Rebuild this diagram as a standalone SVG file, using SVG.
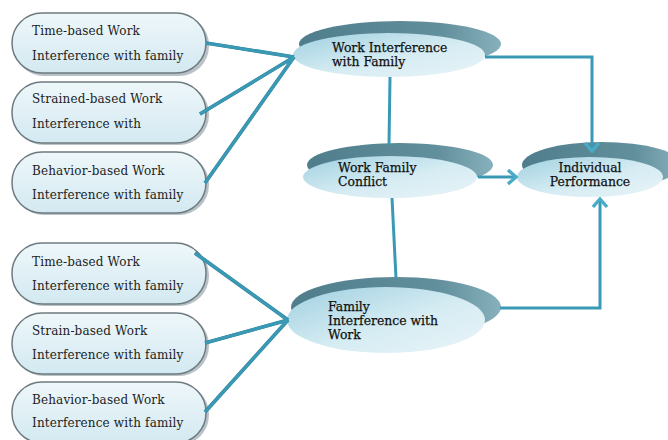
<svg xmlns="http://www.w3.org/2000/svg" width="668" height="440" viewBox="0 0 668 440">
<defs>
<linearGradient id="boxFill" x1="0" y1="0" x2="0" y2="1">
<stop offset="0" stop-color="#eef7fa"/>
<stop offset="1" stop-color="#d3e9f1"/>
</linearGradient>
<linearGradient id="frontFill" x1="0" y1="0" x2="1" y2="1">
<stop offset="0" stop-color="#9fd0e0"/>
<stop offset="0.55" stop-color="#d6ecf3"/>
<stop offset="1" stop-color="#e8f4f8"/>
</linearGradient>
<linearGradient id="backFill" x1="0" y1="0" x2="1" y2="0">
<stop offset="0" stop-color="#4f7d8b"/>
<stop offset="0.7" stop-color="#628f9c"/>
<stop offset="1" stop-color="#86b0bc"/>
</linearGradient>
<marker id="chev" markerWidth="14" markerHeight="18" refX="10" refY="8" orient="auto" markerUnits="userSpaceOnUse">
<path d="M2,1 L10,8 L2,15" fill="none" stroke="#48abc7" stroke-width="3.4"/>
</marker>
<style>
.box{fill:url(#boxFill);stroke:#6d7b81;stroke-width:1.5}
.shadow{fill:#8b9aa0;opacity:0.6}
.front{fill:url(#frontFill)}
.back{fill:url(#backFill)}
.bt{font-family:"DejaVu Serif","Liberation Serif",serif;font-size:12px;letter-spacing:0.15px;fill:#222}
.et{font-family:"DejaVu Serif","Liberation Serif",serif;font-size:12.4px;fill:#111;stroke:#111;stroke-width:0.25}
.ln{fill:none;stroke:#3a9ab6;stroke-width:3;stroke-linejoin:miter}
.lnd{fill:none;stroke:#2a7a91;stroke-width:3.6}
</style>
</defs>

<g id="box1">
<rect class="shadow" x="14" y="15" width="195" height="61" rx="30"/>
<rect class="box" x="12" y="13" width="194" height="60" rx="30"/>
<text class="bt" x="32" y="35">Time-based Work</text>
<text class="bt" x="32" y="60">Interference with family</text>
</g>
<g id="box2">
<rect class="shadow" x="14" y="84" width="195" height="61" rx="30"/>
<rect class="box" x="12" y="82" width="194" height="61" rx="30"/>
<text class="bt" x="32" y="103">Strained-based Work</text>
<text class="bt" x="32" y="128">Interference with</text>
</g>
<g id="box3">
<rect class="shadow" x="14" y="154" width="195" height="61" rx="30"/>
<rect class="box" x="12" y="152" width="194" height="61" rx="30"/>
<text class="bt" x="32" y="175">Behavior-based Work</text>
<text class="bt" x="32" y="199">Interference with family</text>
</g>
<g id="box4">
<rect class="shadow" x="14" y="245" width="195" height="61" rx="30"/>
<rect class="box" x="12" y="243" width="194" height="61" rx="30"/>
<text class="bt" x="32" y="266">Time-based Work</text>
<text class="bt" x="32" y="290">Interference with family</text>
</g>
<g id="box5">
<rect class="shadow" x="14" y="315" width="195" height="61" rx="30"/>
<rect class="box" x="12" y="313" width="194" height="61" rx="30"/>
<text class="bt" x="32" y="335">Strain-based Work</text>
<text class="bt" x="32" y="359">Interference with family</text>
</g>
<g id="box6">
<rect class="shadow" x="14" y="384" width="195" height="61" rx="30"/>
<rect class="box" x="12" y="382" width="194" height="61" rx="30"/>
<text class="bt" x="32" y="404">Behavior-based Work</text>
<text class="bt" x="32" y="427">Interference with family</text>
</g>

<g id="wif">
<ellipse class="back" cx="400" cy="44" rx="101" ry="23"/>
<ellipse class="front" cx="389" cy="55" rx="96" ry="22"/>
<text class="et" x="332" y="52">Work Interference</text>
<text class="et" x="332" y="66">with Family</text>
</g>
<g id="wfc">
<ellipse class="back" cx="400" cy="165" rx="93" ry="22"/>
<ellipse class="front" cx="390" cy="177" rx="87" ry="21"/>
<text class="et" x="338" y="172">Work Family</text>
<text class="et" x="338" y="186">Conflict</text>
</g>
<g id="ip">
<ellipse class="back" cx="602" cy="165" rx="80" ry="23"/>
<ellipse class="front" cx="590" cy="177" rx="73" ry="20"/>
<text class="et" x="590" y="172" text-anchor="middle">Individual</text>
<text class="et" x="590" y="186" text-anchor="middle">Performance</text>
</g>
<g id="fiw">
<ellipse class="back" cx="396" cy="307" rx="105" ry="30"/>
<ellipse class="front" cx="386" cy="320" rx="99" ry="33"/>
<text class="et" x="328" y="311">Family</text>
<text class="et" x="328" y="325">Interference with</text>
<text class="et" x="328" y="339">Work</text>
</g>

<g id="connectors">
<g class="lnd">
<line x1="206" y1="43" x2="294" y2="57"/>
<line x1="200" y1="114" x2="294" y2="57"/>
<line x1="205" y1="183" x2="294" y2="57"/>
<line x1="195" y1="253" x2="288" y2="320"/>
<line x1="205" y1="343" x2="288" y2="320"/>
<line x1="205" y1="412" x2="288" y2="320"/>
</g>
<g class="ln">
<line x1="206" y1="43" x2="294" y2="57"/>
<line x1="200" y1="114" x2="294" y2="57"/>
<line x1="205" y1="183" x2="294" y2="57"/>
<line x1="195" y1="253" x2="288" y2="320"/>
<line x1="205" y1="343" x2="288" y2="320"/>
<line x1="205" y1="412" x2="288" y2="320"/>
<line x1="390" y1="77" x2="389" y2="145"/>
<line x1="392" y1="198" x2="396" y2="278"/>
<polyline points="485,57 592,57 592,151" marker-end="url(#chev)"/>
<line x1="478" y1="177" x2="516" y2="177" marker-end="url(#chev)"/>
<polyline points="500,308 600,308 600,199" marker-end="url(#chev)"/>
</g>
</g>
</svg>
